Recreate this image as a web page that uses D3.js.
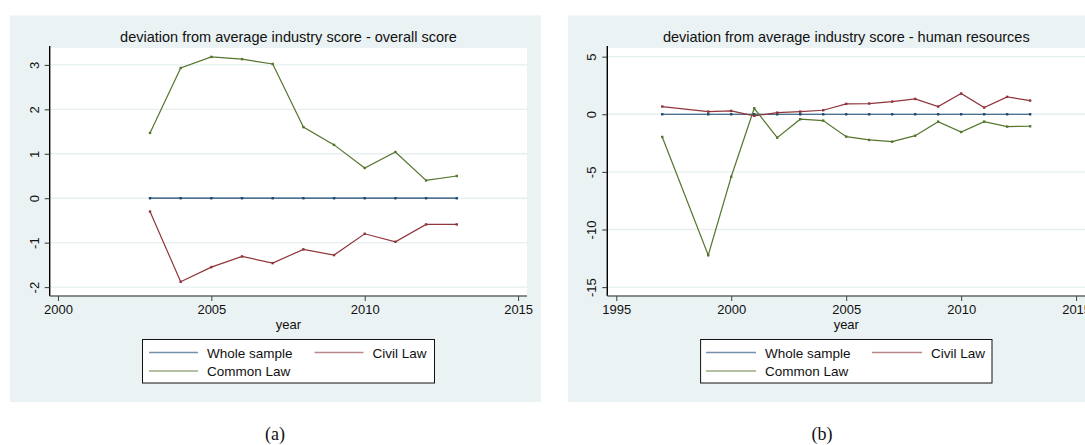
<!DOCTYPE html>
<html>
<head>
<meta charset="utf-8">
<script src="https://cdn.jsdelivr.net/npm/d3@7"></script>
<style>
  html, body { margin: 0; padding: 0; background: #fff; }
  svg { display: block; }
  text { font-family: "Liberation Sans", Arial, sans-serif; }
</style>
</head>
<body>
<svg id="fig" width="1085" height="445"></svg>
<script>
// ---- data: panel (a) overall score ----
const yearsA = [2003, 2004, 2005, 2006, 2007, 2008, 2009, 2010, 2011, 2012, 2013];
const wholeA  = [0, 0, 0, 0, 0, 0, 0, 0, 0, 0, 0];
const civilA  = [-0.30, -1.88, -1.55, -1.31, -1.46, -1.15, -1.28, -0.80, -0.98, -0.59, -0.59];
const commonA = [1.47, 2.93, 3.18, 3.13, 3.02, 1.60, 1.20, 0.68, 1.04, 0.40, 0.50];
const xTicksA = [2000, 2005, 2010, 2015];
const yTicksA = [-2, -1, 0, 1, 2, 3];

// ---- data: panel (b) human resources ----
const yearsB = [1997, 1999, 2000, 2001, 2002, 2003, 2004, 2005, 2006, 2007, 2008, 2009, 2010, 2011, 2012, 2013];
const wholeB  = [0, 0, 0, 0, 0, 0, 0, 0, 0, 0, 0, 0, 0, 0, 0, 0];
const civilB  = [0.67, 0.23, 0.29, -0.14, 0.14, 0.23, 0.35, 0.90, 0.93, 1.10, 1.33, 0.67, 1.80, 0.58, 1.51, 1.19];
const commonB = [-1.97, -12.23, -5.42, 0.52, -2.03, -0.43, -0.55, -1.94, -2.23, -2.38, -1.86, -0.64, -1.54, -0.64, -1.07, -1.04];
const xTicksB = [1995, 2000, 2005, 2010, 2015];
const yTicksB = [-15, -10, -5, 0, 5];

const seriesNames = ["Whole sample", "Civil Law", "Common Law"];
const seriesColors = ["#1a476f", "#90353b", "#55752f"];

const svg = d3.select("#fig");
const plainInt = d => String(d);

function panel(cfg) {
  const g = svg.append("g");
  // outer graph region
  g.append("rect")
    .attr("x", cfg.bg[0]).attr("y", cfg.bg[1])
    .attr("width", cfg.bg[2]).attr("height", cfg.bg[3])
    .attr("fill", "#eaf2f3");

  const x = d3.scaleLinear().domain(cfg.xDomain).range([cfg.left, cfg.right]);
  const y = d3.scaleLinear().domain(cfg.yDomain).range([cfg.bottom, cfg.top]);

  // plot region
  g.append("rect")
    .attr("x", cfg.left).attr("y", cfg.top)
    .attr("width", cfg.right - cfg.left).attr("height", cfg.bottom - cfg.top)
    .attr("fill", "#ffffff");

  // horizontal grid
  g.append("g").selectAll("line").data(cfg.yTicks).join("line")
    .attr("x1", cfg.left).attr("x2", cfg.right)
    .attr("y1", d => y(d)).attr("y2", d => y(d))
    .attr("stroke", "#e6eff0").attr("stroke-width", 1.4);

  // title
  g.append("text")
    .attr("x", cfg.titleX).attr("y", 41.5)
    .attr("text-anchor", "middle")
    .attr("font-size", 14.5).attr("fill", "#111")
    .text(cfg.title);

  // series lines with small square markers
  const lineGen = d3.line().x(d => x(d[0])).y(d => y(d[1]));
  [0, 1, 2].forEach(i => {
    const vals = cfg.series[i];
    const pts = cfg.years.map((yr, k) => [yr, vals[k]]);
    g.append("path")
      .attr("d", lineGen(pts))
      .attr("fill", "none")
      .attr("stroke", seriesColors[i])
      .attr("stroke-width", 1.2);
    g.append("g").selectAll("rect").data(pts).join("rect")
      .attr("x", d => x(d[0]) - 1.2).attr("y", d => y(d[1]) - 1.2)
      .attr("width", 2.4).attr("height", 2.4)
      .attr("fill", seriesColors[i]);
  });

  // y axis
  const yAxis = d3.axisLeft(y).tickValues(cfg.yTicks).tickSize(5).tickPadding(3)
    .tickFormat(plainInt);
  const ya = g.append("g").attr("transform", `translate(${cfg.left},0)`).call(yAxis);
  ya.select(".domain").attr("stroke", "#000").attr("stroke-width", 1.4)
    .attr("d", `M0,${cfg.top - 2}V${cfg.bottom}`);
  ya.selectAll(".tick line").attr("stroke", "#333").attr("stroke-width", 1);
  ya.selectAll(".tick text")
    .attr("font-size", 13).attr("fill", "#111")
    .attr("transform", "rotate(-90)")
    .attr("x", 0).attr("y", -11).attr("dy", 0)
    .attr("text-anchor", "middle");

  // x axis
  const xAxis = d3.axisBottom(x).tickValues(cfg.xTicks).tickSize(5).tickPadding(3)
    .tickFormat(plainInt);
  const xa = g.append("g").attr("transform", `translate(0,${cfg.bottom})`).call(xAxis);
  xa.select(".domain").attr("stroke", "#666").attr("stroke-width", 1.4)
    .attr("d", `M${cfg.left},0H${cfg.right}`);
  xa.selectAll(".tick line").attr("stroke", "#444").attr("stroke-width", 1);
  xa.selectAll(".tick text").attr("font-size", 13).attr("fill", "#111")
    .attr("y", 9).attr("dy", "0.71em");

  g.append("text")
    .attr("x", cfg.titleX).attr("y", 329)
    .attr("text-anchor", "middle")
    .attr("font-size", 13).attr("fill", "#111")
    .text("year");

  // legend
  const L = cfg.legend;
  g.append("rect")
    .attr("x", L.x0).attr("y", 339.5)
    .attr("width", L.x1 - L.x0).attr("height", 43.5)
    .attr("fill", "#fff").attr("stroke", "#111").attr("stroke-width", 1);
  const items = [
    { name: seriesNames[0], color: seriesColors[0], lx: L.c1, row: 0 },
    { name: seriesNames[1], color: seriesColors[1], lx: L.c2, row: 0 },
    { name: seriesNames[2], color: seriesColors[2], lx: L.c1, row: 1 }
  ];
  items.forEach(it => {
    const ly = it.row === 0 ? 352.5 : 371;
    g.append("line")
      .attr("x1", it.lx).attr("x2", it.lx + L.len)
      .attr("y1", ly).attr("y2", ly)
      .attr("stroke", it.color).attr("stroke-opacity", 0.6).attr("stroke-width", 1.4);
    g.append("text")
      .attr("x", it.lx + L.len + 9).attr("y", ly + 5)
      .attr("font-size", 13.5).attr("fill", "#111")
      .text(it.name);
  });

  // caption
  svg.append("text")
    .attr("x", cfg.captionX).attr("y", 440)
    .attr("text-anchor", "middle")
    .attr("font-size", 18).attr("fill", "#111")
    .style("font-family", "'Liberation Serif', 'DejaVu Serif', serif")
    .text(cfg.caption);
}

panel({
  bg: [10, 15.5, 531, 386.5],
  left: 49.7, right: 527, top: 48, bottom: 296,
  xDomain: [1999.73, 2015.29],
  yDomain: [-2.2, 3.38],
  xTicks: xTicksA, yTicks: yTicksA,
  years: yearsA, series: [wholeA, civilA, commonA],
  title: "deviation from average industry score - overall score",
  titleX: 288.5,
  legend: { x0: 142.5, x1: 434.5, c1: 149, c2: 314.5, len: 49 },
  caption: "(a)", captionX: 275
});

panel({
  bg: [568, 15.5, 540, 386.5],
  left: 607.3, right: 1086, top: 48, bottom: 296,
  xDomain: [1994.61, 2015.43],
  yDomain: [-15.77, 5.75],
  xTicks: xTicksB, yTicks: yTicksB,
  years: yearsB, series: [wholeB, civilB, commonB],
  title: "deviation from average industry score - human resources",
  titleX: 846.3,
  legend: { x0: 700.6, x1: 992, c1: 706, c2: 872, len: 50 },
  caption: "(b)", captionX: 822
});
</script>
</body>
</html>
